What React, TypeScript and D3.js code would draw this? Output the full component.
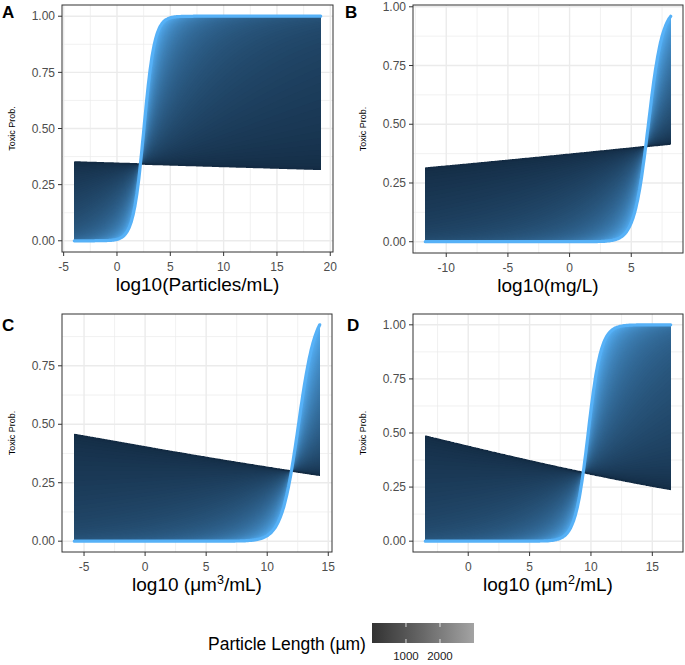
import React from 'react';
import * as d3 from 'd3';

const W = 685;
const H = 665;

// panels
const panelIds = ['A', 'B', 'C', 'D'];
const xTitleMain = ['log10(Particles/mL)', 'log10(mg/L)', 'log10 (\u03bcm', 'log10 (\u03bcm'];
const xTitleSup = ['', '', '3', '2'];
const xTitleTail = ['', '', '/mL)', '/mL)'];

// x extent of the predictions in each panel
const xMins = [-4.0, -11.7, -5.8, -3.5];
const xMaxs = [19.1, 8.2, 14.3, 16.5];
// point where all fitted curves cross (x, probability)
const crossX = [2.2, 6.17, 11.98, 9.37];
const crossP = [0.342, 0.405, 0.3, 0.3175];
// logit slopes for the shortest and the longest particles
const slopeShort = [-0.0064, 0.0224, -0.0379, -0.055];
const slopeLong = [2.0, 1.75, 1.45, 1.9];
// how the slope grows with length (1 = linear)
const slopeCurvature = 1.6;

// particle length (µm)
const lengthRange = [1, 3000];
const legendTicks = [1000, 2000];

// tick labels
const xTicks = [
  [-5, 0, 5, 10, 15, 20],
  [-10, -5, 0, 5],
  [-5, 0, 5, 10, 15],
  [0, 5, 10, 15],
];
const yTicks = [
  [0, 0.25, 0.5, 0.75, 1],
  [0, 0.25, 0.5, 0.75, 1],
  [0, 0.25, 0.5, 0.75],
  [0, 0.25, 0.5, 0.75, 1],
];

const frames = [
  { l: 62, r: 333, t: 5, b: 252, lx: 2, ly: 18 },
  { l: 413, r: 683, t: 5, b: 253, lx: 345, ly: 18 },
  { l: 62, r: 332, t: 314, b: 552, lx: 2, ly: 331 },
  { l: 413, r: 683, t: 314, b: 552, lx: 347, ly: 331 },
];

const FONT = '"Liberation Sans", Arial, Helvetica, sans-serif';
const nCurves = 100;
const nX = 260;

const color = d3
  .scaleLinear<string>()
  .domain(lengthRange)
  .range(['#132B43', '#56B1F7'])
  .interpolate(d3.interpolateLab);

const legendColor = d3
  .scaleLinear<string>()
  .domain(lengthRange)
  .range(['#333333', '#A3A3A3'])
  .interpolate(d3.interpolateLab);

function minorOf(major: number[], dom: number[]) {
  const step = major[1] - major[0];
  return d3
    .range(major[0] - 3 * step + step / 2, major[major.length - 1] + 3 * step, step)
    .filter(v => v >= Math.min(dom[0], dom[1]) && v <= Math.max(dom[0], dom[1]));
}

const Panel = ({ k }: { k: number }) => {
  const f = frames[k];
  const [Lmin, Lmax] = lengthRange;
  const lengths = d3.range(nCurves + 1).map(i => Lmin + (i / nCurves) * (Lmax - Lmin));
  const xs = d3.range(nX + 1).map(i => xMins[k] + (i / nX) * (xMaxs[k] - xMins[k]));
  const c0 = Math.log(crossP[k] / (1 - crossP[k]));
  const prob = (x: number, L: number) => {
    const t = Math.pow((L - Lmin) / (Lmax - Lmin), slopeCurvature);
    const s = slopeShort[k] + (slopeLong[k] - slopeShort[k]) * t;
    return 1 / (1 + Math.exp(-(c0 + s * (x - crossX[k]))));
  };
  const curves = lengths.map(L => xs.map(x => prob(x, L)));
  const yExt = d3.extent(curves.flat()) as [number, number];
  const xr = xMaxs[k] - xMins[k];
  const yr = yExt[1] - yExt[0];
  const x = d3.scaleLinear().domain([xMins[k] - 0.05 * xr, xMaxs[k] + 0.05 * xr]).range([f.l, f.r]);
  const y = d3.scaleLinear().domain([yExt[0] - 0.05 * yr, yExt[1] + 0.05 * yr]).range([f.b, f.t]);

  const area = d3
    .area<number>()
    .x((_, j) => x(xs[j]))
    .y0((_, j) => y(curves[0][j]))
    .y1(v => y(v));
  const line = d3
    .line<number>()
    .x((_, j) => x(xs[j]))
    .y(v => y(v));
  if ((area as any).digits) (area as any).digits(1);
  if ((line as any).digits) (line as any).digits(1);

  const xMinor = minorOf(xTicks[k], x.domain());
  const yMinor = minorOf(yTicks[k], y.domain());
  const order = d3.range(nCurves, 0, -1);

  return (
    <g>
      <rect x={f.l} y={f.t} width={f.r - f.l} height={f.b - f.t} fill="#fff" />
      {xMinor.map(v => (
        <line key={'xm' + v} x1={x(v)} x2={x(v)} y1={f.t} y2={f.b} stroke="#EBEBEB" strokeWidth={0.7} />
      ))}
      {yMinor.map(v => (
        <line key={'ym' + v} x1={f.l} x2={f.r} y1={y(v)} y2={y(v)} stroke="#EBEBEB" strokeWidth={0.7} />
      ))}
      {xTicks[k].map(v => (
        <line key={'xg' + v} x1={x(v)} x2={x(v)} y1={f.t} y2={f.b} stroke="#EBEBEB" strokeWidth={1.4} />
      ))}
      {yTicks[k].map(v => (
        <line key={'yg' + v} x1={f.l} x2={f.r} y1={y(v)} y2={y(v)} stroke="#EBEBEB" strokeWidth={1.4} />
      ))}
      {order.map(i => (
        <path key={'a' + i} d={area(curves[i]) || ''} fill={color(lengths[i])} />
      ))}
      <path d={line(curves[0]) || ''} fill="none" stroke={color(lengths[0])} strokeWidth={1.5} />
      <path
        d={line(curves[nCurves]) || ''}
        fill="none"
        stroke={color(lengths[nCurves])}
        strokeWidth={3.2}
        strokeLinecap="round"
        strokeLinejoin="round"
      />
      <rect x={f.l} y={f.t} width={f.r - f.l} height={f.b - f.t} fill="none" stroke="#333333" strokeWidth={1} />
      {xTicks[k].map(v => (
        <g key={'xt' + v}>
          <line x1={x(v)} x2={x(v)} y1={f.b} y2={f.b + 4} stroke="#333333" strokeWidth={1} />
          <text x={x(v)} y={f.b + 19} textAnchor="middle" fontSize={12} fill="#4D4D4D">
            {String(v)}
          </text>
        </g>
      ))}
      {yTicks[k].map(v => (
        <g key={'yt' + v}>
          <line x1={f.l - 4} x2={f.l} y1={y(v)} y2={y(v)} stroke="#333333" strokeWidth={1} />
          <text x={f.l - 7} y={y(v)} dy="0.35em" textAnchor="end" fontSize={12} fill="#4D4D4D">
            {v.toFixed(2)}
          </text>
        </g>
      ))}
      <text x={(f.l + f.r) / 2} y={f.b + 39} textAnchor="middle" fontSize={19} fill="#000">
        {xTitleMain[k]}
        {xTitleSup[k] ? (
          <tspan dy={-7} fontSize={12.5}>
            {xTitleSup[k]}
          </tspan>
        ) : null}
        {xTitleTail[k] ? <tspan dy={7}>{xTitleTail[k]}</tspan> : null}
      </text>
      <text
        transform={`translate(${f.l - 47},${(f.t + f.b) / 2}) rotate(-90)`}
        textAnchor="middle"
        fontSize={9}
        fill="#000"
      >
        Toxic Prob.
      </text>
      <text x={f.lx} y={f.ly} fontSize={17} fontWeight="bold" fill="#000">
        {panelIds[k]}
      </text>
    </g>
  );
};

const Legend = () => {
  const lx = d3.scaleLinear().domain(lengthRange).range([372, 474]);
  const stops = d3.range(0, 1.0001, 0.1);
  return (
    <g>
      <defs>
        <linearGradient id="lenGrad" x1="0" x2="1" y1="0" y2="0">
          {stops.map(s => (
            <stop
              key={s}
              offset={`${s * 100}%`}
              stopColor={legendColor(lengthRange[0] + s * (lengthRange[1] - lengthRange[0]))}
            />
          ))}
        </linearGradient>
      </defs>
      <text x={208} y={650} fontSize={17.5} fill="#000">
        Particle Length (µm)
      </text>
      <rect x={372} y={623} width={102} height={20} fill="url(#lenGrad)" />
      {legendTicks.map(v => (
        <g key={v}>
          <line x1={lx(v)} x2={lx(v)} y1={623} y2={627} stroke="#fff" strokeWidth={0.8} />
          <line x1={lx(v)} x2={lx(v)} y1={639} y2={643} stroke="#fff" strokeWidth={0.8} />
          <text x={lx(v)} y={660} textAnchor="middle" fontSize={11.5} fill="#1a1a1a">
            {String(v)}
          </text>
        </g>
      ))}
    </g>
  );
};

export default function App() {
  return (
    <svg
      width={W}
      height={H}
      style={{ position: 'absolute', left: 0, top: 0, background: '#fff' }}
      fontFamily={FONT}
    >
      <rect width={W} height={H} fill="#fff" />
      {panelIds.map((_, k) => (
        <Panel key={k} k={k} />
      ))}
      <Legend />
    </svg>
  );
}
